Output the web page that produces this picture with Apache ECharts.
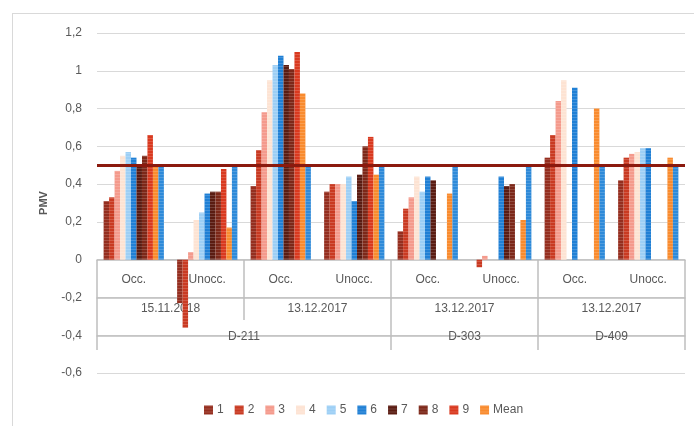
<!DOCTYPE html>
<html>
<head>
<meta charset="utf-8">
<script src="https://cdn.jsdelivr.net/npm/echarts@6/dist/echarts.min.js"></script>
<style>
  html, body { margin: 0; padding: 0; background: #fff; }
  #frame { position: absolute; left: 12px; top: 13px; width: 700px; height: 420px; border-left: 1px solid #d9d9d9; border-top: 1px solid #d9d9d9; }
  #chart { position: absolute; left: 0; top: 0; width: 694px; height: 426px; }
</style>
</head>
<body>
<div id="frame"></div>
<div id="chart"></div>
<script>
// categories (first level), dates (second), rooms (third)
const categories = ['Occ.', 'Unocc.', 'Occ.', 'Unocc.', 'Occ.', 'Unocc.', 'Occ.', 'Unocc.'];
const dates = ['15.11.2018', '13.12.2017', '13.12.2017', '13.12.2017'];
const rooms = ['D-211', 'D-303', 'D-409'];
const roomSpans = [4, 2, 2]; // number of categories under each room

const yTicks = [-0.6, 1.2, 0.2];

// PMV values per category
const s1 = [0.31, -0.23, 0.39, 0.36, 0.15, null, 0.54, 0.42];
const s2 = [0.33, -0.36, 0.58, 0.40, 0.27, -0.04, 0.66, 0.54];
const s3 = [0.47, 0.04, 0.78, 0.40, 0.33, 0.02, 0.84, 0.56];
const s4 = [0.55, 0.21, 0.95, 0.40, 0.44, null, 0.95, 0.57];
const s5 = [0.57, 0.25, 1.03, 0.44, 0.36, null, null, 0.59];
const s6 = [0.54, 0.35, 1.08, 0.31, 0.44, 0.44, 0.91, 0.59];
const s7 = [0.50, 0.36, 1.03, 0.45, 0.42, 0.39, null, null];
const s8 = [0.55, 0.36, 1.01, 0.60, null, 0.40, null, null];
const s9 = [0.66, 0.48, 1.10, 0.65, null, null, null, null];
const mean = [0.50, 0.17, 0.88, 0.45, 0.35, 0.21, 0.80, 0.54];
const limit = [0.5, 0.5, 0.5, 0.5, 0.5, 0.5, 0.5, 0.5];

const seriesNames = ['1', '2', '3', '4', '5', '6', '7', '8', '9', 'Mean'];
const seriesData = [s1, s2, s3, s4, s5, s6, s7, s8, s9, mean];
const colors = ['#952e1f', '#c93a22', '#f49a8c', '#fde3d3', '#9dcff5', '#2080d5', '#5a1c12', '#7d2819', '#d9391f', '#f98b2e'];
const limitColor = '#2e8ad9';

const chart = echarts.init(document.getElementById('chart'));

// boundary axes: 9 points, one per category edge
const nEdges = categories.length + 1;
const dateLabels = new Array(nEdges).fill('');
dates.forEach((d, i) => { dateLabels[i * 2 + 1] = d; });
const dateEdges = [];
for (let i = 0; i <= dates.length; i++) dateEdges.push(i * 2);

const roomLabels = new Array(nEdges).fill('');
const roomEdges = [0];
let pos = 0;
rooms.forEach((r, i) => {
  roomLabels[pos + roomSpans[i] / 2] = r;
  pos += roomSpans[i];
  roomEdges.push(pos);
});

const textColor = '#595959';
const lineColor = '#bfbfbf';
const font = 'Liberation Sans';

function edgeAxis(data, edges, offset, inside, len, showLine, showLabel, margin) {
  return {
    type: 'category',
    position: 'bottom',
    offset: offset,
    boundaryGap: false,
    data: data,
    axisLine: { show: showLine, onZero: false, lineStyle: { color: lineColor, width: 1.5 } },
    axisTick: {
      show: true,
      inside: inside,
      length: len,
      interval: (idx) => edges.includes(idx),
      lineStyle: { color: lineColor, width: 1.5 }
    },
    axisLabel: {
      show: showLabel,
      interval: 0,
      color: textColor,
      fontFamily: font,
      fontSize: 12,
      margin: margin
    },
    splitLine: { show: false },
    silent: true
  };
}

const stripes = {
  symbol: 'rect',
  symbolSize: 1,
  dashArrayX: [[1, 0]],
  dashArrayY: [1, 2],
  color: 'rgba(255,255,255,0.16)'
};

const series = seriesNames.map((name, i) => ({
  name: name,
  type: 'bar',
  data: seriesData[i],
  barGap: '0%',
  barCategoryGap: '18%',
  itemStyle: { color: colors[i], decal: stripes }
}));

series.push({
  name: 'limit',
  type: 'bar',
  data: limit,
  barGap: '0%',
  barCategoryGap: '18%',
  itemStyle: { color: limitColor, decal: stripes },
  markLine: {
    silent: true,
    symbol: 'none',
    label: { show: false },
    lineStyle: { color: '#8b1a0e', width: 3, type: 'solid' },
    data: [{ yAxis: 0.5 }],
    z: 10
  }
});

const option = {
  animation: false,
  backgroundColor: 'transparent',
  grid: { left: 97, right: 9, top: 33, bottom: 53, containLabel: false },
  legend: {
    data: seriesNames,
    left: 199,
    top: 399,
    icon: 'rect',
    itemWidth: 9,
    itemHeight: 9,
    itemGap: 11,
    textStyle: { color: textColor, fontFamily: font, fontSize: 12, padding: [0, 0, 0, -1] }
  },
  xAxis: [
    {
      type: 'category',
      position: 'bottom',
      offset: -113, // sits on the zero line
      data: categories,
      axisLine: { onZero: false, lineStyle: { color: lineColor, width: 1.5 } },
      axisTick: { show: false },
      axisLabel: { interval: 0, color: textColor, fontFamily: font, fontSize: 12, margin: 14 },
      splitLine: { show: false }
    },
    // dates row: line at 298, separators up to zero line and down
    edgeAxis(dateLabels, dateEdges, -75, true, 38, true, true, 5),
    edgeAxis(dateLabels, dateEdges, -75, false, 22, false, false, 5),
    // rooms row, labels sit on their line
    edgeAxis(roomLabels, roomEdges, -37, true, 38, true, true, -5),
    edgeAxis(roomLabels, roomEdges, -37, false, 14, false, false, 5)
  ],
  yAxis: {
    type: 'value',
    min: yTicks[0],
    max: yTicks[1],
    interval: yTicks[2],
    name: 'PMV',
    nameLocation: 'middle',
    nameGap: 48,
    nameTextStyle: { color: textColor, fontFamily: font, fontSize: 11, fontWeight: 'bold' },
    axisLine: { show: false },
    axisTick: { show: false },
    axisLabel: {
      color: textColor,
      fontFamily: font,
      fontSize: 12,
      margin: 15,
      formatter: (v) => String(Math.round(v * 10) / 10).replace('.', ',')
    },
    splitLine: { lineStyle: { color: '#d9d9d9', width: 1 } }
  },
  series: series
};

chart.setOption(option);
</script>
</body>
</html>
